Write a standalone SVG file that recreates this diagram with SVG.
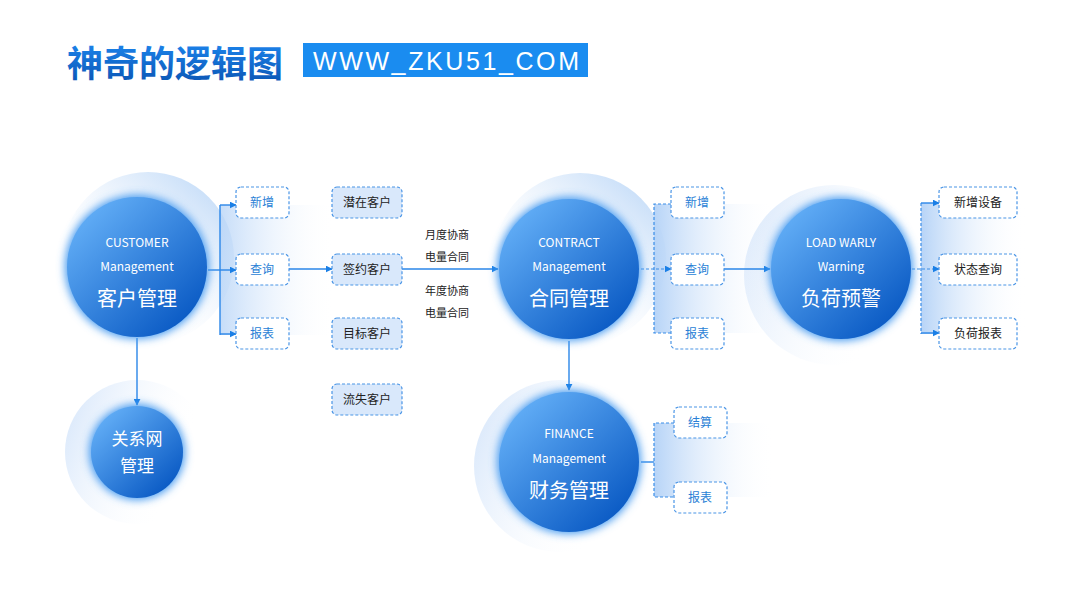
<svg xmlns="http://www.w3.org/2000/svg" width="1080" height="608" viewBox="0 0 1080 608">
<defs>
<linearGradient id="title" x1="0" y1="0" x2="0" y2="1"><stop offset="0" stop-color="#1f8cf5"/><stop offset="1" stop-color="#0a52b0"/></linearGradient>
<linearGradient id="ball" x1="0.15" y1="0.15" x2="0.85" y2="0.9"><stop offset="0" stop-color="#5eaaf4"/><stop offset="1" stop-color="#0a5ac4"/></linearGradient>
<linearGradient id="haloTR" x1="0.9" y1="0.1" x2="0.3" y2="0.8"><stop offset="0" stop-color="#c4dcf8"/><stop offset="1" stop-color="#ffffff" stop-opacity="0"/></linearGradient>
<linearGradient id="haloL" x1="0" y1="0.3" x2="0.8" y2="0.6"><stop offset="0" stop-color="#dbe9fb"/><stop offset="1" stop-color="#ffffff" stop-opacity="0"/></linearGradient>
<linearGradient id="band" x1="0" y1="0" x2="1" y2="0"><stop offset="0" stop-color="#b7d4f7"/><stop offset="1" stop-color="#ffffff" stop-opacity="0"/></linearGradient>
<filter id="glow" x="-30%" y="-30%" width="160%" height="160%"><feGaussianBlur stdDeviation="4"/></filter>
<marker id="arr" viewBox="0 0 10 10" refX="9" refY="5" markerWidth="7" markerHeight="7" markerUnits="userSpaceOnUse" orient="auto"><path d="M0,0 L10,5 L0,10 z" fill="#1a7fe6"/></marker>
<style>
.ln{stroke:#2a86e8;stroke-width:1.4;fill:none}
.dl{stroke:#3a8ee8;stroke-width:1.2;fill:none;stroke-dasharray:3 2}
.bx{fill:#ffffff;stroke:#4a95e6;stroke-width:1.2;stroke-dasharray:3 2}
.bx2{fill:#d9e8fb;stroke:#4a95e6;stroke-width:1.2;stroke-dasharray:3 2}
.bt{font-family:"Noto Sans CJK SC","Noto Sans",sans-serif;font-size:12px;fill:#2a7fd6;text-anchor:middle}
.dt{font-family:"Noto Sans CJK SC","Noto Sans",sans-serif;font-size:12px;fill:#222;text-anchor:middle}
.en{font-family:"Noto Sans CJK SC","Noto Sans",sans-serif;font-size:12px;fill:#ffffff;text-anchor:middle}
.cn{font-family:"Noto Sans CJK SC","Noto Sans",sans-serif;font-size:20px;fill:#ffffff;text-anchor:middle}
.lb{font-family:"Noto Sans CJK SC","Noto Sans",sans-serif;font-size:11px;fill:#222;text-anchor:middle}
</style>
</defs>
<rect width="1080" height="608" fill="#ffffff"/>
<g id="title-block">
<text x="67" y="77" font-family="'Noto Sans CJK SC',sans-serif" font-weight="bold" font-size="36" fill="url(#title)">神奇的逻辑图</text>
<rect x="303" y="43" width="285" height="34" fill="#1a8cf0"/>
<text x="313" y="70" font-family="'Liberation Sans',Arial,sans-serif" font-size="25" fill="#ffffff" textLength="266" lengthAdjust="spacing">WWW_ZKU51_COM</text>
</g>
<g id="halos">
<circle cx="148" cy="258" r="86" fill="url(#haloTR)"/>
<circle cx="137" cy="452" r="72" fill="url(#haloL)"/>
<circle cx="580" cy="259" r="86" fill="url(#haloTR)"/>
<circle cx="834" cy="275" r="90" fill="url(#haloL)"/>
<circle cx="560" cy="466" r="86" fill="url(#haloL)"/>
</g>
<g id="bands">
<rect x="220" y="205" width="115" height="130" fill="url(#band)" opacity="0.8"/>
<rect x="654" y="204" width="120" height="129" fill="url(#band)"/>
<rect x="921" y="203" width="105" height="131" fill="url(#band)"/>
<rect x="654" y="423" width="120" height="74" fill="url(#band)"/>
</g>
<g id="connectors">
<line class="ln" x1="137" y1="338" x2="137" y2="405" marker-end="url(#arr)"/>
<line class="ln" x1="208" y1="270" x2="220" y2="270"/>
<line class="ln" x1="220" y1="205" x2="220" y2="335"/>
<line class="ln" x1="220" y1="205" x2="236" y2="205" marker-end="url(#arr)"/>
<line class="ln" x1="220" y1="270" x2="236" y2="270" marker-end="url(#arr)"/>
<line class="ln" x1="220" y1="334" x2="236" y2="334" marker-end="url(#arr)"/>
<line class="ln" x1="289" y1="269" x2="332" y2="269" marker-end="url(#arr)"/>
<line class="ln" x1="402" y1="269" x2="498" y2="269" marker-end="url(#arr)"/>
<path class="dl" d="M671,204 H654 V333 H671"/>
<line class="dl" x1="641" y1="269" x2="671" y2="269" marker-end="url(#arr)"/>
<line class="ln" x1="724" y1="269" x2="770" y2="269" marker-end="url(#arr)"/>
<line class="ln" x1="569" y1="341" x2="569" y2="390" marker-end="url(#arr)"/>
<line class="dl" x1="912" y1="269" x2="939" y2="269" marker-end="url(#arr)"/>
<line class="dl" x1="921" y1="203" x2="921" y2="334"/>
<line class="ln" x1="921" y1="203" x2="939" y2="203" marker-end="url(#arr)"/>
<line class="ln" x1="921" y1="333" x2="939" y2="333" marker-end="url(#arr)"/>
<line class="ln" x1="641" y1="462" x2="654" y2="462"/>
<path class="dl" d="M674,423 H654 V497 H674"/>
</g>
<g id="labels">
<text class="lb" x="447" y="239">月度协商</text>
<text class="lb" x="447" y="261">电量合同</text>
<text class="lb" x="447" y="295">年度协商</text>
<text class="lb" x="447" y="317">电量合同</text>
</g>
<g id="customer">
<circle cx="137" cy="267" r="72" fill="#4a9cf0" filter="url(#glow)"/>
<circle cx="137" cy="267" r="70" fill="url(#ball)"/>
<text class="en" x="137" y="247">CUSTOMER</text>
<text class="en" x="137" y="271">Management</text>
<text class="cn" x="137" y="306">客户管理</text>
</g>
<g id="relation">
<circle cx="137" cy="452" r="48" fill="#4a9cf0" filter="url(#glow)"/>
<circle cx="137" cy="452" r="46" fill="url(#ball)"/>
<text class="cn" x="137" y="445" style="font-size:17px">关系网</text>
<text class="cn" x="137" y="472" style="font-size:17px">管理</text>
</g>
<g id="contract">
<circle cx="569" cy="269" r="72" fill="#4a9cf0" filter="url(#glow)"/>
<circle cx="569" cy="269" r="70" fill="url(#ball)"/>
<text class="en" x="569" y="247">CONTRACT</text>
<text class="en" x="569" y="271">Management</text>
<text class="cn" x="569" y="306">合同管理</text>
</g>
<g id="load">
<circle cx="841" cy="269" r="72" fill="#4a9cf0" filter="url(#glow)"/>
<circle cx="841" cy="269" r="70" fill="url(#ball)"/>
<text class="en" x="841" y="247">LOAD WARLY</text>
<text class="en" x="841" y="271">Warning</text>
<text class="cn" x="841" y="306">负荷预警</text>
</g>
<g id="finance">
<circle cx="569" cy="462" r="72" fill="#4a9cf0" filter="url(#glow)"/>
<circle cx="569" cy="462" r="70" fill="url(#ball)"/>
<text class="en" x="569" y="438">FINANCE</text>
<text class="en" x="569" y="463">Management</text>
<text class="cn" x="569" y="498">财务管理</text>
</g>
<g id="c-xinzeng"><rect class="bx" x="236" y="187" width="53" height="31" rx="5"/><text class="bt" x="262" y="207">新增</text></g>
<g id="c-chaxun"><rect class="bx" x="236" y="254" width="53" height="31" rx="5"/><text class="bt" x="262" y="274">查询</text></g>
<g id="c-baobiao"><rect class="bx" x="236" y="318" width="53" height="31" rx="5"/><text class="bt" x="262" y="338">报表</text></g>
<g id="k1"><rect class="bx2" x="332" y="187" width="70" height="31" rx="5"/><text class="dt" x="367" y="207">潜在客户</text></g>
<g id="k2"><rect class="bx2" x="332" y="254" width="70" height="31" rx="5"/><text class="dt" x="367" y="274">签约客户</text></g>
<g id="k3"><rect class="bx2" x="332" y="318" width="70" height="31" rx="5"/><text class="dt" x="367" y="338">目标客户</text></g>
<g id="k4"><rect class="bx2" x="332" y="384" width="70" height="31" rx="5"/><text class="dt" x="367" y="404">流失客户</text></g>
<g id="h-xinzeng"><rect class="bx" x="671" y="187" width="53" height="31" rx="5"/><text class="bt" x="697" y="207">新增</text></g>
<g id="h-chaxun"><rect class="bx" x="671" y="254" width="53" height="31" rx="5"/><text class="bt" x="697" y="274">查询</text></g>
<g id="h-baobiao"><rect class="bx" x="671" y="318" width="53" height="31" rx="5"/><text class="bt" x="697" y="338">报表</text></g>
<g id="l1"><rect class="bx" x="939" y="187" width="78" height="31" rx="5"/><text class="dt" x="978" y="207">新增设备</text></g>
<g id="l2"><rect class="bx" x="939" y="254" width="78" height="31" rx="5"/><text class="dt" x="978" y="274">状态查询</text></g>
<g id="l3"><rect class="bx" x="939" y="318" width="78" height="31" rx="5"/><text class="dt" x="978" y="338">负荷报表</text></g>
<g id="f-jiesuan"><rect class="bx" x="674" y="407" width="53" height="31" rx="5"/><text class="bt" x="700" y="427">结算</text></g>
<g id="f-baobiao"><rect class="bx" x="674" y="482" width="53" height="31" rx="5"/><text class="bt" x="700" y="502">报表</text></g>
</svg>
